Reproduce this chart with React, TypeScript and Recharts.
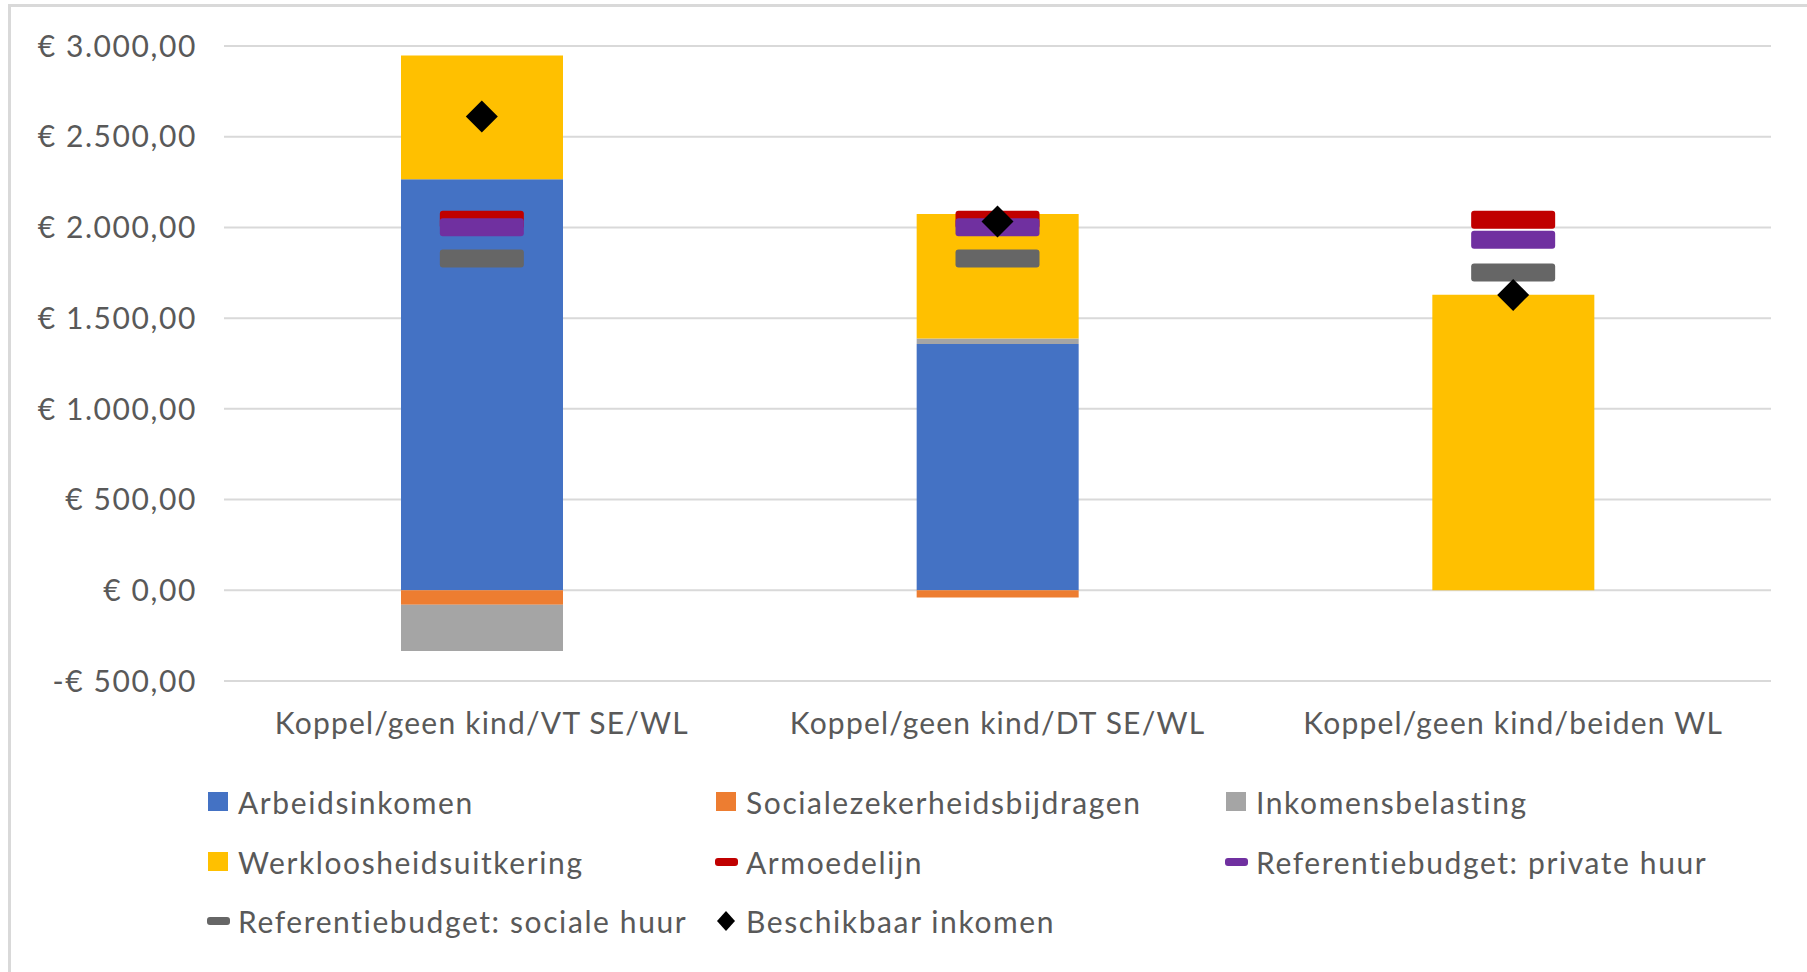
import React from 'react';
import { ComposedChart, Bar, Scatter, XAxis, YAxis, CartesianGrid, Legend } from 'recharts';

const categories = [
  'Koppel/geen kind/VT SE/WL',
  'Koppel/geen kind/DT SE/WL',
  'Koppel/geen kind/beiden WL',
];
const arbeidsinkomen = [2265, 1357, 0];
const socialezekerheidsbijdragen = [-80, -40, 0];
const inkomensbelasting = [-255, 31, 0];
const werkloosheidsuitkering = [682, 686, 1629];
const armoedelijn = [2043, 2043, 2042];
const refPrivateHuur = [2001, 2001, 1932];
const refSocialeHuur = [1829, 1829, 1751];
const beschikbaarInkomen = [2612, 2032, 1628];
const yTicks = [-500, 0, 500, 1000, 1500, 2000, 2500, 3000];

const legendItems = [
  { name: 'Arbeidsinkomen', color: '#4472C4', kind: 'bar' },
  { name: 'Socialezekerheidsbijdragen', color: '#ED7D31', kind: 'bar' },
  { name: 'Inkomensbelasting', color: '#A5A5A5', kind: 'bar' },
  { name: 'Werkloosheidsuitkering', color: '#FFC000', kind: 'bar' },
  { name: 'Armoedelijn', color: '#C00000', kind: 'dash' },
  { name: 'Referentiebudget: private huur', color: '#7030A0', kind: 'dash' },
  { name: 'Referentiebudget: sociale huur', color: '#666666', kind: 'dash' },
  { name: 'Beschikbaar inkomen', color: '#000000', kind: 'diamond' },
];

const data = categories.map((name, i) => ({
  name,
  arbeidsinkomen: arbeidsinkomen[i],
  sociale: socialezekerheidsbijdragen[i],
  belasting: inkomensbelasting[i],
  werkloosheid: werkloosheidsuitkering[i],
  armoedelijn: armoedelijn[i],
  refPrivate: refPrivateHuur[i],
  refSociale: refSocialeHuur[i],
  beschikbaar: beschikbaarInkomen[i],
}));

const FONT = 'Lato, "Open Sans", sans-serif';
const TEXT = '#595959';
const FS = 30;
const LS = '1.6px';

function euro(v: number): string {
  const abs = Math.abs(v);
  const intPart = Math.floor(abs).toString().replace(/\B(?=(\d{3})+(?!\d))/g, '.');
  const s = '€ ' + intPart + ',00';
  return v < 0 ? '-' + s : s;
}

const dashShape = (color: string) => (props: any) => {
  const { cx, cy } = props;
  if (cx == null || cy == null) return <g />;
  return <rect x={cx - 42} y={cy - 9} width={84} height={18} rx={3} ry={3} fill={color} />;
};

const diamondShape = (props: any) => {
  const { cx, cy } = props;
  if (cx == null || cy == null) return <g />;
  const r = 16;
  return <polygon points={`${cx},${cy - r} ${cx + r},${cy} ${cx},${cy + r} ${cx - r},${cy}`} fill="#000" />;
};

const colX = [208, 716, 1226];
const rowY = [30, 90, 149];

const renderLegend = () => (
  <div style={{ position: 'relative', width: 1807, height: 180 }}>
    {legendItems.map((it, i) => {
      const col = i % 3;
      const row = Math.floor(i / 3);
      const x = colX[col];
      const y = rowY[row];
      let icon: React.ReactNode;
      if (it.kind === 'bar') {
        icon = <div style={{ position: 'absolute', left: x, top: y - 10, width: 20, height: 19, background: it.color }} />;
      } else if (it.kind === 'dash') {
        icon = <div style={{ position: 'absolute', left: x - 1, top: y - 4, width: 23, height: 8, borderRadius: 3, background: it.color }} />;
      } else {
        icon = (
          <svg style={{ position: 'absolute', left: x, top: y - 10 }} width={20} height={20}>
            <polygon points="10,0 19,10 10,20 1,10" fill={it.color} />
          </svg>
        );
      }
      return (
        <React.Fragment key={it.name}>
          {icon}
          <span
            style={{
              position: 'absolute',
              left: x + 30,
              top: y - 20,
              height: 40,
              lineHeight: '40px',
              fontFamily: FONT,
              fontSize: FS,
              letterSpacing: LS,
              color: TEXT,
              whiteSpace: 'nowrap',
            }}
          >
            {it.name}
          </span>
        </React.Fragment>
      );
    })}
  </div>
);

const tickStyle = { fill: TEXT, fontSize: FS, fontFamily: FONT, style: { letterSpacing: LS } };
const xTickStyle = { fill: TEXT, fontSize: FS, fontFamily: FONT, style: { letterSpacing: '1.2px' } };

export default function App() {
  return (
    <div style={{ position: 'absolute', left: 0, top: 0, width: 1807, height: 972, background: '#fff', overflow: 'hidden' }}>
      <div
        style={{
          position: 'absolute',
          left: 8,
          top: 4,
          width: 1807,
          height: 980,
          borderLeft: '3px solid #d9d9d9',
          borderTop: '3px solid #d9d9d9',
          boxSizing: 'border-box',
        }}
      />
      <div style={{ position: 'absolute', left: 0, top: 0 }}>
        <ComposedChart
          width={1807}
          height={972}
          data={data}
          stackOffset="sign"
          margin={{ top: 46, right: 36, left: 0, bottom: 231 }}
        >
          <CartesianGrid vertical={false} stroke="#d9d9d9" strokeWidth={2} />
          <XAxis
            dataKey="name"
            axisLine={false}
            tickLine={false}
            tickSize={0}
            tickMargin={32}
            height={60}
            interval={0}
            tick={xTickStyle}
          />
          <YAxis
            type="number"
            domain={[-500, 3000]}
            ticks={yTicks}
            interval={0}
            tickFormatter={euro}
            axisLine={false}
            tickLine={false}
            tickSize={0}
            tickMargin={27}
            width={224}
            tick={tickStyle}
          />
          <Bar dataKey="arbeidsinkomen" stackId="a" fill="#4472C4" barSize={162} isAnimationActive={false} />
          <Bar dataKey="sociale" stackId="a" fill="#ED7D31" barSize={162} isAnimationActive={false} />
          <Bar dataKey="belasting" stackId="a" fill="#A5A5A5" barSize={162} isAnimationActive={false} />
          <Bar dataKey="werkloosheid" stackId="a" fill="#FFC000" barSize={162} isAnimationActive={false} />
          <Scatter dataKey="armoedelijn" fill="#C00000" shape={dashShape('#C00000')} isAnimationActive={false} />
          <Scatter dataKey="refPrivate" fill="#7030A0" shape={dashShape('#7030A0')} isAnimationActive={false} />
          <Scatter dataKey="refSociale" fill="#666666" shape={dashShape('#666666')} isAnimationActive={false} />
          <Scatter dataKey="beschikbaar" fill="#000000" shape={diamondShape} isAnimationActive={false} />
          <Legend
            layout="vertical"
            align="center"
            verticalAlign="middle"
            content={renderLegend}
            wrapperStyle={{ left: 0, top: 772, width: 1807, height: 180 }}
          />
        </ComposedChart>
      </div>
    </div>
  );
}
